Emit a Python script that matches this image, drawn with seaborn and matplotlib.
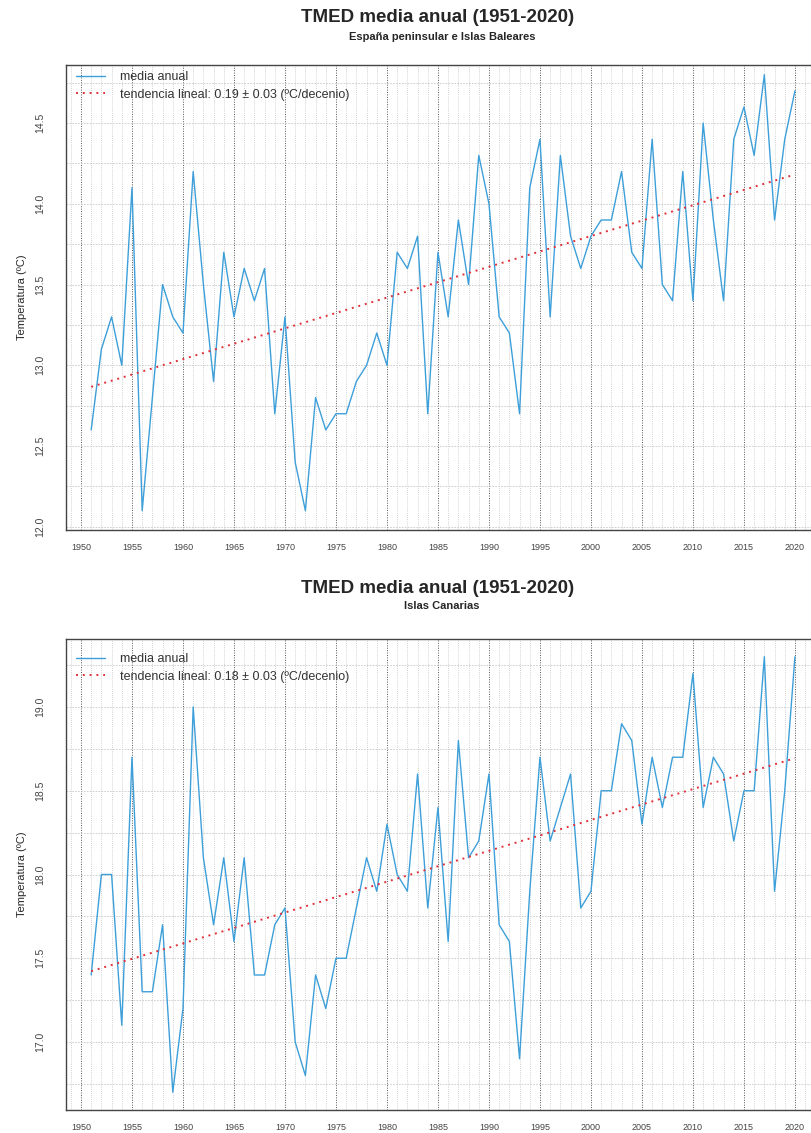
import numpy as np
import pandas as pd
import matplotlib
matplotlib.use("Agg")
import matplotlib.pyplot as plt
import seaborn as sns
from matplotlib.ticker import MultipleLocator

# Datos: temperatura media anual (ºC), 1951-2020
years = list(range(1951, 2021))

peninsula = [12.6, 13.1, 13.3, 13.0, 14.1, 12.1, 12.8, 13.5, 13.3, 13.2,
             14.2, 13.5, 12.9, 13.7, 13.3, 13.6, 13.4, 13.6, 12.7, 13.3,
             12.4, 12.1, 12.8, 12.6, 12.7, 12.7, 12.9, 13.0, 13.2, 13.0,
             13.7, 13.6, 13.8, 12.7, 13.7, 13.3, 13.9, 13.5, 14.3, 14.0,
             13.3, 13.2, 12.7, 14.1, 14.4, 13.3, 14.3, 13.8, 13.6, 13.8,
             13.9, 13.9, 14.2, 13.7, 13.6, 14.4, 13.5, 13.4, 14.2, 13.4,
             14.5, 13.9, 13.4, 14.4, 14.6, 14.3, 14.8, 13.9, 14.4, 14.7]

canarias = [17.4, 18.0, 18.0, 17.1, 18.7, 17.3, 17.3, 17.7, 16.7, 17.2,
            19.0, 18.1, 17.7, 18.1, 17.6, 18.1, 17.4, 17.4, 17.7, 17.8,
            17.0, 16.8, 17.4, 17.2, 17.5, 17.5, 17.8, 18.1, 17.9, 18.3,
            18.0, 17.9, 18.6, 17.8, 18.4, 17.6, 18.8, 18.1, 18.2, 18.6,
            17.7, 17.6, 16.9, 17.9, 18.7, 18.2, 18.4, 18.6, 17.8, 17.9,
            18.5, 18.5, 18.9, 18.8, 18.3, 18.7, 18.4, 18.7, 18.7, 19.2,
            18.4, 18.7, 18.6, 18.2, 18.5, 18.5, 19.3, 17.9, 18.5, 19.3]

subtitles = ["España peninsular e Islas Baleares", "Islas Canarias"]
trend_labels = ["tendencia lineal: 0.19 ± 0.03 (ºC/decenio)",
                "tendencia lineal: 0.18 ± 0.03 (ºC/decenio)"]

sns.set_style("white")
plt.rcParams['font.family'] = ['Liberation Sans', 'DejaVu Sans']

fig = plt.figure(figsize=(8.11, 11.33), dpi=100)

W, H = 811, 1133
# posiciones de cada panel en pixeles
panels = [
    dict(top=65, bottom=530, ylim=(11.98, 14.86), title_y=18, sub_y=37, leg_off=6),
    dict(top=639, bottom=1110, ylim=(16.594, 19.406), title_y=588, sub_y=606, leg_off=14),
]
left_px = 66

line_color = "#3d9fd9"
trend_color = "#e0303a"

for i, (vals, p) in enumerate(zip([peninsula, canarias], panels)):
    df = pd.DataFrame({"year": years, "temp": vals})
    h_px = p["bottom"] - p["top"]
    ax = fig.add_axes([left_px / W, 1 - p["bottom"] / H,
                       (W + 2 - left_px) / W, h_px / H])

    # rejilla
    ax.xaxis.set_major_locator(MultipleLocator(5))
    ax.xaxis.set_minor_locator(MultipleLocator(1))
    ax.yaxis.set_major_locator(MultipleLocator(0.5))
    ax.yaxis.set_minor_locator(MultipleLocator(0.25))
    ax.grid(which="minor", axis="x", color="#c4c4c4", linestyle=(0, (1, 1.5)), lw=0.6)
    ax.grid(which="major", axis="x", color="#555555", linestyle=(0, (1, 1.5)), lw=0.7)
    ax.grid(which="both", axis="y", color="#c8c8c8", linestyle=(0, (2, 1.5)), lw=0.6)
    ax.set_axisbelow(True)

    sns.lineplot(data=df, x="year", y="temp", ax=ax, color=line_color, lw=1.0,
                 label="media anual")
    sns.regplot(data=df, x="year", y="temp", ax=ax, scatter=False, ci=None,
                line_kws=dict(color=trend_color, lw=1.4, linestyle=(0, (1, 2.5))),
                label=trend_labels[i])

    ax.set_xlim(1948.53, 2021.77)
    ax.set_ylim(*p["ylim"])
    ax.set_xlabel("")
    ax.set_ylabel("Temperatura (ºC)", fontsize=8, labelpad=6)

    ax.tick_params(axis="x", which="major", length=5, width=0.8, labelsize=6.5,
                   labelcolor="#444444", pad=4, color="#333333")
    ax.tick_params(axis="y", which="major", length=5, width=0.8, labelsize=7.5,
                   labelcolor="#444444", pad=10, color="#333333")
    ax.tick_params(which="minor", length=0)
    for lab in ax.get_yticklabels():
        lab.set_rotation(90)
        lab.set_va("center")

    for s in ax.spines.values():
        s.set_color("#444444")
        s.set_linewidth(1.0)

    leg = ax.legend(loc="upper left", bbox_to_anchor=(10 / 745, 1 - p["leg_off"] / h_px),
                    frameon=False, fontsize=9, handlelength=2.3, handletextpad=1.2,
                    labelspacing=0.45, borderaxespad=0, borderpad=0)
    for t in leg.get_texts():
        t.set_color("#333333")

    fig.text(0.54, 1 - p["title_y"] / H, "TMED media anual (1951-2020)",
             ha="center", va="center", fontsize=13.5, fontweight="bold")
    fig.text(0.545, 1 - p["sub_y"] / H, subtitles[i],
             ha="center", va="center", fontsize=8, fontweight="bold")

fig.savefig("out.png", dpi=100)
